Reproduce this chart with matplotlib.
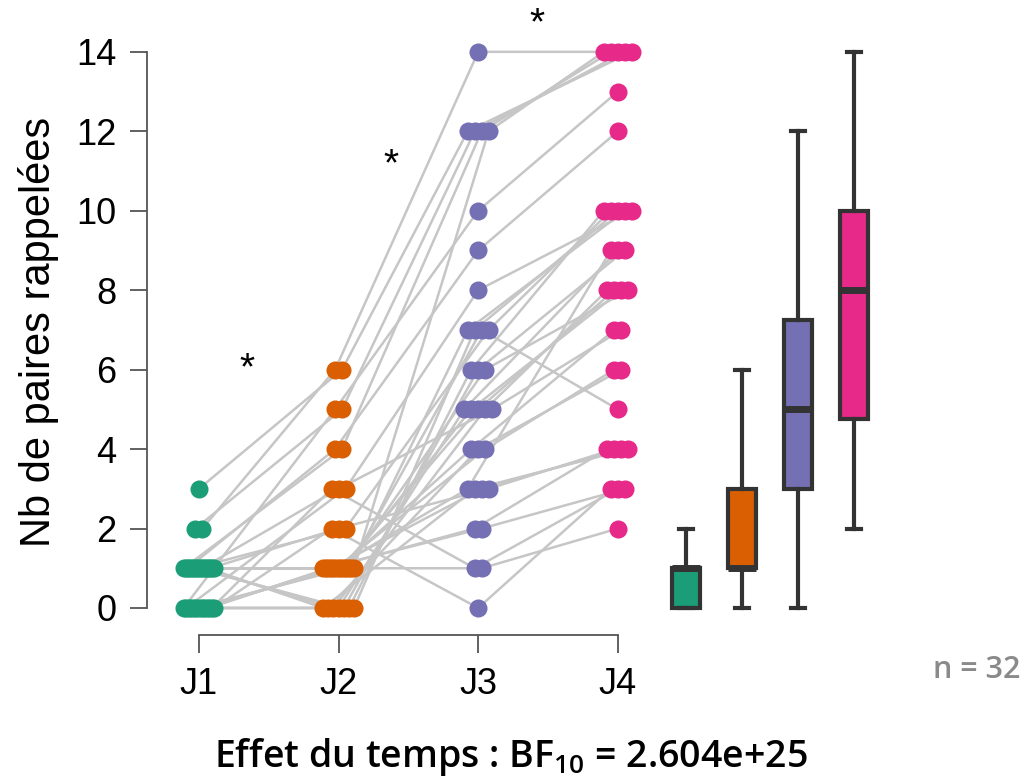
"""
Rappel des paires sur 4 jours : trajectoires individuelles + boxplots.
Sortie : out.png
"""

import matplotlib.pyplot as plt
import numpy as np

plt.rcParams["font.family"] = ["Liberation Sans", "DejaVu Sans"]
plt.rcParams["mathtext.fontset"] = "custom"
plt.rcParams["mathtext.rm"] = "Open Sans"

days = ["J1", "J2", "J3", "J4"]
colors = ["#1B9E77", "#D95F02", "#7570B3", "#E7298A"]

# une valeur par participant (n = 32)
j1 = [3, 2, 2, 1, 1, 0, 1, 0, 1, 0, 1, 1, 0, 1, 0, 1,
      1, 0, 0, 1, 0, 1, 1, 0, 1, 0, 1, 0, 1, 0, 1, 0]
j2 = [6, 5, 6, 4, 1, 5, 4, 3, 1, 0, 1, 2, 0, 0, 1, 0,
      1, 1, 0, 3, 1, 0, 1, 1, 0, 1, 2, 1, 1, 3, 1, 2]
j3 = [12, 12, 14, 12, 12, 10, 9, 8, 7, 7, 7, 7, 6, 6, 6, 5,
      5, 5, 5, 5, 4, 4, 4, 3, 3, 3, 3, 2, 2, 1, 1, 0]
j4 = [14, 14, 14, 14, 14, 13, 12, 10, 10, 10, 5, 10, 10, 9, 8, 9,
      8, 8, 8, 7, 7, 6, 6, 9, 4, 4, 4, 4, 3, 3, 2, 3]

bf_text = "Effet du temps : BF$_{\\mathregular{10}}$ = 2.604e+25"
n_text = "n = 32"


def spread(values, flip=False, width=0.11, step=0.05):
    """Décalage horizontal déterministe des points ex aequo."""
    values = np.asarray(values)
    off = np.zeros(len(values))
    for v in np.unique(values):
        idx = np.where(values == v)[0]
        n = len(idx)
        if n > 1:
            w = min(width, step * (n - 1) / 2)
            steps = np.linspace(-w, w, n)
            off[idx] = steps[::-1] if flip else steps
    return off


data = np.array([j1, j2, j3, j4], dtype=float)
xpos = np.arange(1, 5)
xs = np.array([xpos[t] + spread(data[t], flip=t % 2 == 1) for t in range(4)])

fig = plt.figure(figsize=(10.26, 7.83), dpi=100)
W, H = 1026, 783
ax = fig.add_axes([147 / W, (H - 635) / H, (925 - 147) / W, (635 - 28) / H])
ax.set_xlim(0.628, 6.2)
ax.set_ylim(-0.68, 14.6)

# trajectoires individuelles
for i in range(data.shape[1]):
    ax.plot(xs[:, i], data[:, i], color="#C6C6C6", lw=1.8, zorder=1,
            solid_capstyle="round")

for t in range(4):
    ax.plot(xs[t], data[t], "o", ms=13, color=colors[t], mec="none",
            zorder=3)

# boxplots à droite
box_pos = [4.49, 4.89, 5.29, 5.69]
bp = ax.boxplot(list(data), positions=box_pos, widths=0.2,
                patch_artist=True, showfliers=False, whis=1.5,
                capwidths=0.1, manage_ticks=False,
                boxprops=dict(lw=3, color="#333333"),
                medianprops=dict(lw=5, color="#333333"),
                whiskerprops=dict(lw=3, color="#333333"),
                capprops=dict(lw=3, color="#333333"))
for patch, c in zip(bp["boxes"], colors):
    patch.set_facecolor(c)
    patch.set_edgecolor("#333333")

# étoiles de significativité
for sx, sy in [(1.344, 6.0), (2.375, 11.15), (3.42, 14.7)]:
    ax.text(sx, sy, "*", ha="center", va="center", fontsize=28,
            clip_on=False)

for side in ["top", "right"]:
    ax.spines[side].set_visible(False)
ax.spines["left"].set_bounds(0, 14)
ax.spines["bottom"].set_bounds(1, 4)
for side in ["left", "bottom"]:
    ax.spines[side].set_color("#555555")
    ax.spines[side].set_linewidth(1.3)

ax.set_yticks(range(0, 15, 2))
ax.set_xticks(xpos)
ax.set_xticklabels(days)
ax.tick_params(axis="y", length=12, width=1.3, color="#555555",
               labelsize=26, pad=10)
ax.tick_params(axis="x", length=13, width=1.3, color="#555555",
               labelsize=26, pad=10)
ax.set_ylabel("Nb de paires rappelées", fontsize=30, labelpad=12)

fig.text(977 / W, 1 - 670 / H, n_text, ha="center", va="center",
         fontsize=22, color="#8A8A8A", family="Open Sans", weight="semibold")
fig.text(511 / W, 1 - 757 / H, bf_text, ha="center", va="center",
         fontsize=27, color="black", family="Open Sans", weight="semibold")

fig.savefig("out.png", dpi=100)
